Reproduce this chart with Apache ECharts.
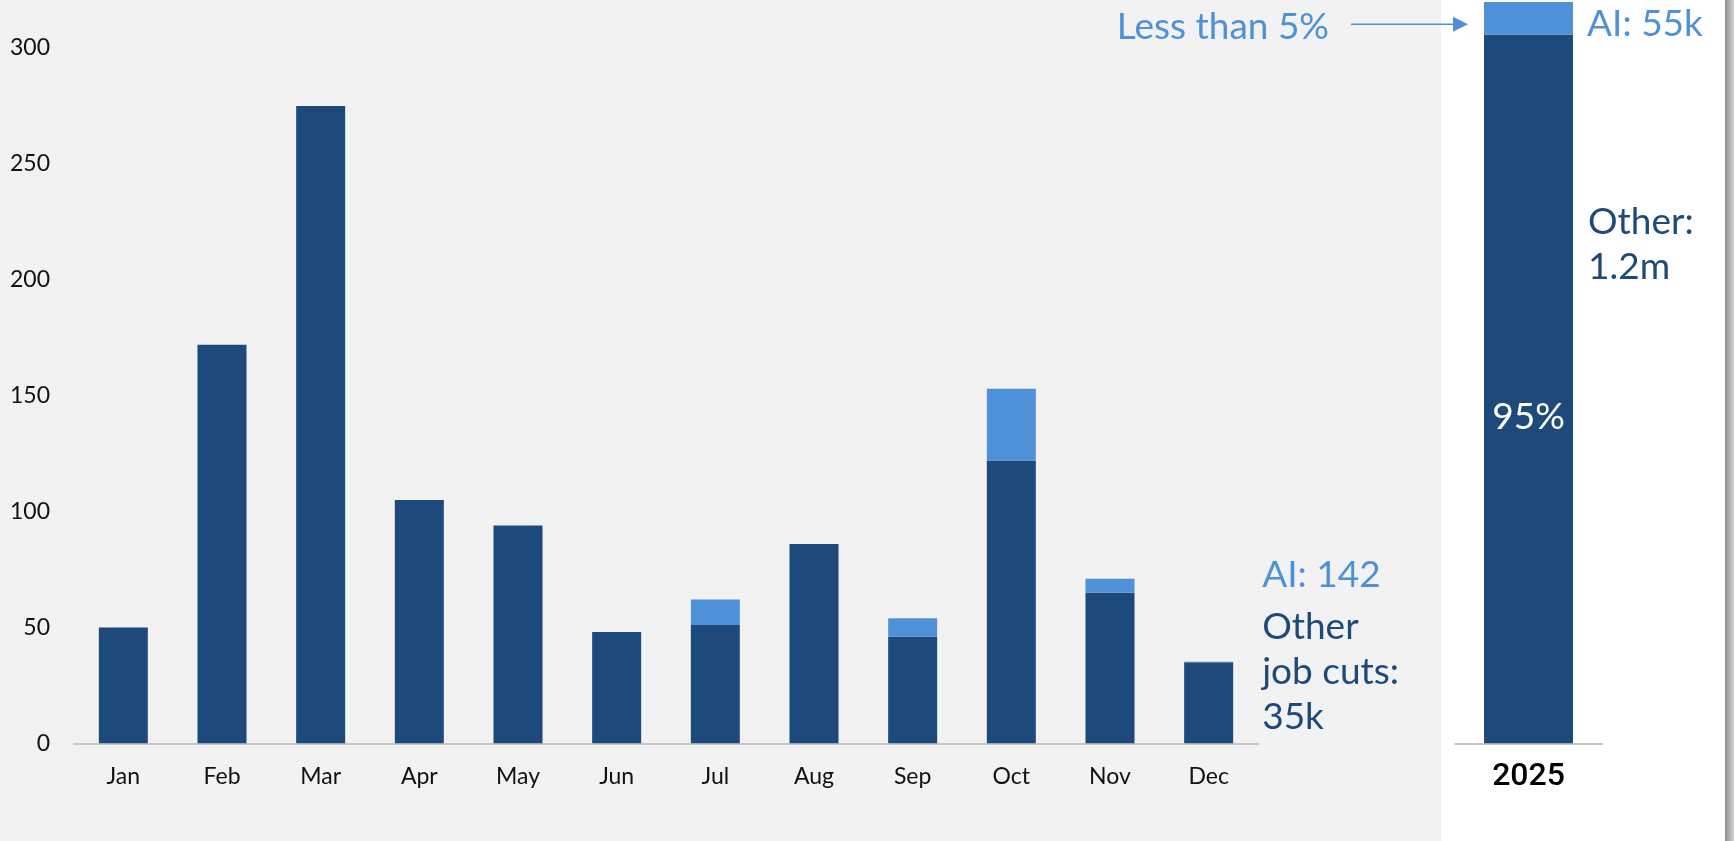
<!DOCTYPE html>
<html>
<head>
<meta charset="utf-8">
<script src="https://cdn.jsdelivr.net/npm/echarts@6/dist/echarts.min.js"></script>
<style>
  html, body { margin: 0; padding: 0; background: #f1f2f1; }
  #chart { width: 1734px; height: 841px; }
</style>
</head>
<body>
<div id="chart"></div>
<script>
// Monthly job cuts, thousands
const months = ['Jan', 'Feb', 'Mar', 'Apr', 'May', 'Jun', 'Jul', 'Aug', 'Sep', 'Oct', 'Nov', 'Dec'];
const otherCuts = [50, 172, 275, 105, 94, 48, 51, 86, 46, 122, 65, 35];
const aiCuts = [0, 0, 0, 0, 0, 0, 11, 0, 8, 31, 6, 0.142];

// Full-year totals, thousands
const years = ['2025'];
const otherYear = [1200];
const aiYear = [55];

// Left value axis ticks
const yMin = 0;
const yMax = 300;
const yStep = 50;

const DARK = '#1d4a7b';
const LIGHT = '#4f91d8';
const FONT = 'Lato';

const chart = echarts.init(document.getElementById('chart'), null, { renderer: 'canvas' });

const lastIdx = months.length - 1;

const otherMonthly = otherCuts.map((v, i) => i === lastIdx ? {
  value: v,
  label: {
    show: true, position: 'right', distance: 29, offset: [0, -31],
    formatter: 'Other\njob cuts:\n35k',
    color: DARK, fontFamily: FONT, fontSize: 37, lineHeight: 45, align: 'left'
  }
} : v);

const aiMonthly = aiCuts.map((v, i) => i === lastIdx ? {
  value: v,
  label: {
    show: true, position: 'right', distance: 29, offset: [0, -87],
    formatter: 'AI: 142',
    color: LIGHT, fontFamily: FONT, fontSize: 37
  }
} : v);

const total2025 = otherYear[0] + aiYear[0];

// White side panel behind the full-year bar, with a shaded right edge
const panelGraphics = [
  { type: 'rect', z: -10, shape: { x: 1441, y: 0, width: 284, height: 841 }, style: { fill: '#ffffff' }, silent: true },
  {
    type: 'rect', z: -10, shape: { x: 1725, y: 0, width: 9, height: 841 },
    style: {
      fill: new echarts.graphic.LinearGradient(0, 0, 1, 0, [
        { offset: 0, color: '#8e8e8e' }, { offset: 1, color: '#d4d4d4' }
      ])
    },
    silent: true
  }
];

chart.setOption({
  backgroundColor: '#f1f2f1',
  animation: false,
  graphic: panelGraphics,
  grid: [
    { left: 74, width: 1184, top: 48, bottom: 97.7 },
    { left: 1455, width: 147, top: 2, bottom: 97.7 }
  ],
  xAxis: [
    {
      type: 'category', gridIndex: 0, data: months,
      axisLine: { lineStyle: { color: '#c6c6c6', width: 2 } },
      axisTick: { show: false },
      axisLabel: { color: '#111', fontFamily: FONT, fontSize: 23, margin: 22 }
    },
    {
      type: 'category', gridIndex: 1, data: years,
      axisLine: { lineStyle: { color: '#c6c6c6', width: 2 } },
      axisTick: { show: false },
      axisLabel: { color: '#000', fontFamily: 'Roboto', fontWeight: 500, fontSize: 32, margin: 18 }
    }
  ],
  yAxis: [
    {
      type: 'value', gridIndex: 0, min: yMin, max: yMax, interval: yStep,
      splitLine: { show: false },
      axisLine: { show: false }, axisTick: { show: false },
      axisLabel: { color: '#111', fontFamily: FONT, fontSize: 23, margin: 24 }
    },
    {
      type: 'value', gridIndex: 1, min: 0, max: total2025,
      show: false, splitLine: { show: false }
    }
  ],
  series: [
    {
      name: 'Other', type: 'bar', xAxisIndex: 0, yAxisIndex: 0, stack: 'month',
      barWidth: 49, itemStyle: { color: DARK }, data: otherMonthly
    },
    {
      name: 'AI', type: 'bar', xAxisIndex: 0, yAxisIndex: 0, stack: 'month',
      barWidth: 49, itemStyle: { color: LIGHT }, data: aiMonthly
    },
    {
      name: 'Other 2025', type: 'bar', xAxisIndex: 1, yAxisIndex: 1, stack: 'year',
      barWidth: 89, itemStyle: { color: DARK },
      label: {
        show: true, position: 'inside', offset: [0, 28],
        formatter: '95%', color: '#ffffff', fontFamily: FONT, fontSize: 37
      },
      data: otherYear
    },
    {
      name: 'AI 2025', type: 'bar', xAxisIndex: 1, yAxisIndex: 1, stack: 'year',
      barWidth: 89, itemStyle: { color: LIGHT },
      label: {
        show: true, position: 'right', distance: 14, offset: [0, 6],
        formatter: 'AI: 55k', color: LIGHT, fontFamily: FONT, fontSize: 37
      },
      data: aiYear
    }
  ]
});

// Annotations placed from the 2025 bar's own coordinates
const otherTop = chart.convertToPixel({ xAxisIndex: 1, yAxisIndex: 1 }, [years[0], otherYear[0]]);
const aiMid = chart.convertToPixel({ xAxisIndex: 1, yAxisIndex: 1 }, [years[0], otherYear[0] + aiYear[0] / 2]);
const barLeft = otherTop[0] - 89 / 2;
const arrowY = aiMid[1] + 6;

chart.setOption({
  graphic: panelGraphics.concat([
    {
      type: 'text', x: barLeft + 104, y: otherTop[1] + 165,
      style: { text: 'Other:\n1.2m', fill: DARK, font: '37px Lato', lineHeight: 45, textVerticalAlign: 'top' }
    },
    {
      type: 'text', x: barLeft - 155, y: arrowY + 3,
      style: { text: 'Less than 5%', fill: LIGHT, font: '37px Lato', textAlign: 'right', textVerticalAlign: 'middle' }
    },
    {
      type: 'line',
      shape: { x1: barLeft - 133, y1: arrowY, x2: barLeft - 30, y2: arrowY },
      style: { stroke: LIGHT, lineWidth: 1.5 }
    },
    {
      type: 'polygon',
      shape: { points: [[barLeft - 31, arrowY - 7.5], [barLeft - 16, arrowY], [barLeft - 31, arrowY + 7.5]] },
      style: { fill: LIGHT }
    }
  ])
});
</script>
</body>
</html>
